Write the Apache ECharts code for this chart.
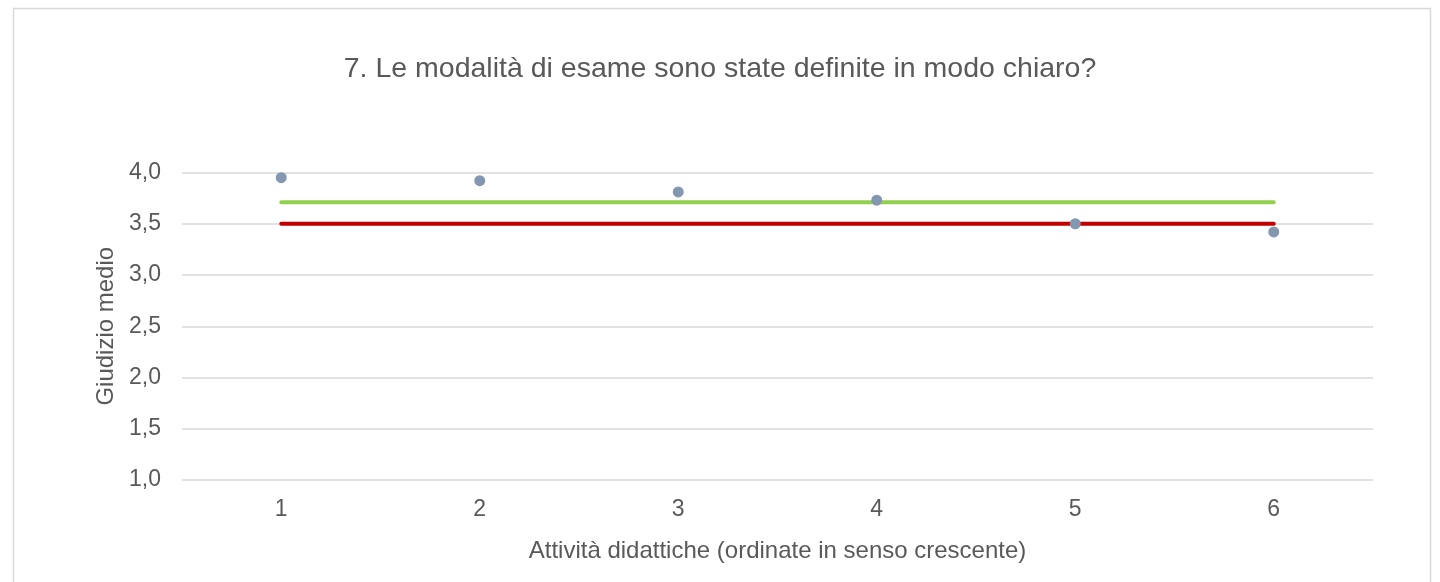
<!DOCTYPE html>
<html>
<head>
<meta charset="utf-8">
<script src="https://cdn.jsdelivr.net/npm/echarts@6/dist/echarts.min.js"></script>
<style>
html,body{margin:0;padding:0;background:#fff;}
#c{width:1440px;height:582px;}
</style>
</head>
<body>
<div id="c"></div>
<script>
const titleText = "7. Le modalità di esame sono state definite in modo chiaro?";
const categories = ["1", "2", "3", "4", "5", "6"];
const giudizioMedio = [3.95, 3.92, 3.81, 3.73, 3.50, 3.42];
const mediaVerde = [3.71, 3.71, 3.71, 3.71, 3.71, 3.71];
const sogliaRossa = [3.50, 3.50, 3.50, 3.50, 3.50, 3.50];
const yTicks = [1.0, 1.5, 2.0, 2.5, 3.0, 3.5, 4.0];

const chart = echarts.init(document.getElementById('c'), null, {renderer: 'canvas'});
const font = 'Liberation Sans, Arial, sans-serif';
chart.setOption({
  animation: false,
  backgroundColor: '#ffffff',
  graphic: [{
    type: 'rect',
    shape: {x: 13.5, y: 8.5, width: 1417, height: 600},
    style: {fill: 'none', stroke: '#D9D9D9', lineWidth: 1.5},
    silent: true
  }],
  title: {
    text: titleText,
    left: 'center',
    top: 50,
    textStyle: {fontFamily: font, fontSize: 28.5, fontWeight: 'normal', color: '#595959'}
  },
  grid: {left: 182, right: 67, top: 172.5, bottom: 102, containLabel: false},
  xAxis: {
    type: 'category',
    data: categories,
    boundaryGap: true,
    name: 'Attività didattiche (ordinate in senso crescente)',
    nameLocation: 'middle',
    nameGap: 59,
    nameTextStyle: {fontFamily: font, fontSize: 24, color: '#595959'},
    axisLine: {show: false},
    axisTick: {show: false},
    axisLabel: {fontFamily: font, fontSize: 23, color: '#595959', margin: 18}
  },
  yAxis: {
    type: 'value',
    min: yTicks[0],
    max: yTicks[yTicks.length - 1],
    interval: 0.5,
    name: 'Giudizio medio',
    nameLocation: 'middle',
    nameGap: 63,
    nameTextStyle: {fontFamily: font, fontSize: 24, color: '#595959'},
    axisLine: {show: false},
    axisTick: {show: false},
    splitLine: {lineStyle: {color: '#D9D9D9', width: 1.5}},
    axisLabel: {
      fontFamily: font, fontSize: 23, color: '#595959', margin: 21,
      formatter: v => v.toFixed(1).replace('.', ',')
    }
  },
  series: [
    {
      type: 'line',
      data: mediaVerde,
      symbol: 'none',
      lineStyle: {color: '#92D050', width: 4, cap: 'round'},
      z: 2
    },
    {
      type: 'line',
      data: sogliaRossa,
      symbol: 'none',
      lineStyle: {color: '#C00000', width: 4, cap: 'round'},
      z: 2
    },
    {
      type: 'scatter',
      data: giudizioMedio,
      symbol: 'circle',
      symbolSize: 11,
      itemStyle: {color: '#8497B0', opacity: 1},
      z: 3
    }
  ]
});
</script>
</body>
</html>
